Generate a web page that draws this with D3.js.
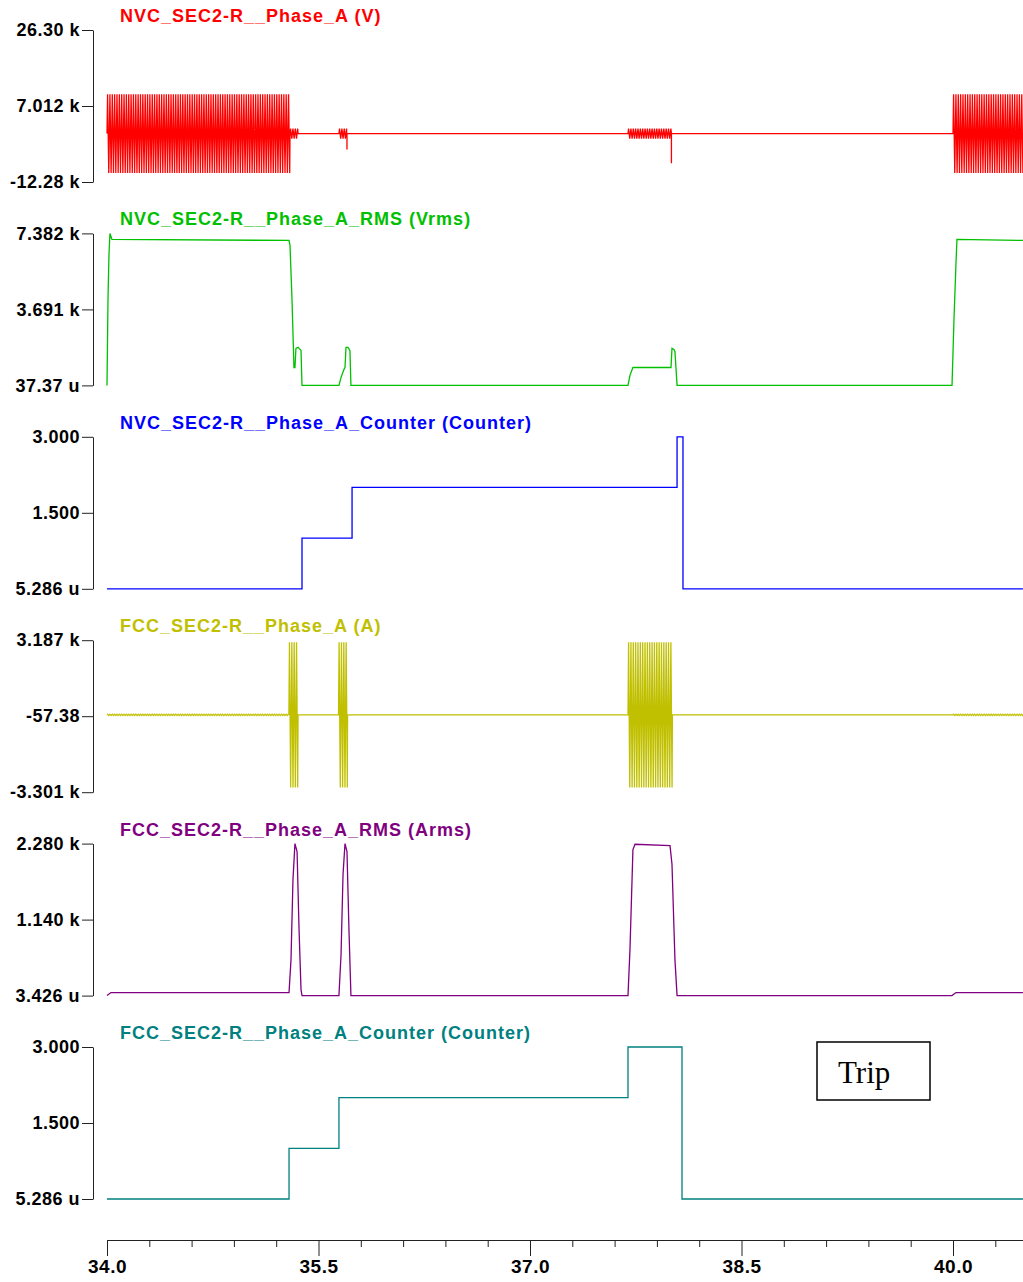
<!DOCTYPE html>
<html>
<head>
<meta charset="utf-8">
<style>
  body { margin: 0; background: #fff; }
  svg text { font-family: "Liberation Sans", Arial, sans-serif; }
  .tick text { font-weight: bold; font-size: 18px; fill: #000; letter-spacing: 0.5px; }
  .xaxis .tick text { font-size: 19px; }
  .title { font-weight: bold; font-size: 18px; letter-spacing: 1px; }
</style>
</head>
<body>
<svg id="chart" width="1023" height="1282"></svg>
<script src="https://d3js.org/d3.v7.min.js"></script>
<script>
  // time axis (s)
  var xTicks = [34.0, 35.5, 37.0, 38.5, 40.0]
  var xMinor = [34.3, 34.6, 34.9, 35.2, 35.8, 36.1, 36.4, 36.7, 37.3, 37.6, 37.9, 38.2, 38.8, 39.1, 39.4, 39.7, 40.3]
  var tStart = 34.0, tEnd = 40.5
  var halfStep = 1 / 120 // spacing of the drawn waveform strokes

  // panel titles / colours / y ranges / tick labels
  var titles = ["NVC_SEC2-R__Phase_A (V)", "NVC_SEC2-R__Phase_A_RMS (Vrms)", "NVC_SEC2-R__Phase_A_Counter (Counter)",
                "FCC_SEC2-R__Phase_A (A)", "FCC_SEC2-R__Phase_A_RMS (Arms)", "FCC_SEC2-R__Phase_A_Counter (Counter)"]
  var colors = ["#ff0000", "#00c000", "#0000ff", "#c0c000", "#800080", "#008080"]
  var yRanges = [[-12.28, 26.30], [0, 7.382], [0, 3.0], [-3.301, 3.187], [0, 2.280], [0, 3.0]]
  var yLabels = [["-12.28 k", "7.012 k", "26.30 k"], ["37.37 u", "3.691 k", "7.382 k"], ["5.286 u", "1.500", "3.000"],
                 ["-3.301 k", "-57.38", "3.187 k"], ["3.426 u", "1.140 k", "2.280 k"], ["5.286 u", "1.500", "3.000"]]

  // NVC voltage (kV): bursts [start, end, peak] and spikes [t, value]
  var vBursts = [[34.000, 35.298, 10.0], [35.298, 35.355, 1.3], [35.645, 35.700, 1.3], [37.695, 38.003, 1.3], [40.000, 40.496, 10.0]]
  var vSpikes = [[35.702, -4.0], [38.003, -7.5]]

  // NVC RMS (kVrms)
  var vRms = [[34.000, 0], [34.007, 4.18], [34.014, 6.36], [34.021, 7.38], [34.035, 7.09], [35.291, 7.04],
              [35.298, 6.80], [35.312, 4.18], [35.326, 0.87], [35.333, 0.87], [35.340, 1.80], [35.355, 1.85],
              [35.376, 1.70], [35.383, 0], [35.645, 0], [35.660, 0.39], [35.681, 0.78], [35.688, 0.87],
              [35.695, 1.85], [35.709, 1.85], [35.723, 1.70], [35.730, 0], [37.695, 0], [37.709, 0.49],
              [37.730, 0.87], [38.000, 0.87], [38.007, 1.80], [38.021, 1.75], [38.028, 1.65], [38.043, 0],
              [39.993, 0], [40.007, 3.21], [40.021, 5.88], [40.028, 7.09], [40.496, 7.04]]

  // NVC counter
  var vCount = [[34.000, 0], [35.383, 1], [35.738, 2], [38.043, 3], [38.085, 0], [40.496, 0]]

  // FCC current (kA): bursts [start, end, peak]
  var iBursts = [[34.000, 35.290, 0.03], [35.290, 35.355, 3.1], [35.642, 35.706, 3.1], [37.695, 38.010, 3.1], [40.000, 40.496, 0.03]]

  // FCC RMS (kArms)
  var iRms = [[34.000, 0], [34.028, 0.045], [35.291, 0.045], [35.305, 0.54], [35.319, 1.74], [35.333, 2.28],
              [35.348, 2.16], [35.362, 0.99], [35.376, 0.09], [35.383, 0], [35.645, 0], [35.660, 0.62],
              [35.674, 1.82], [35.688, 2.28], [35.702, 2.16], [35.716, 0.99], [35.730, 0], [37.695, 0],
              [37.709, 0.69], [37.730, 2.19], [37.745, 2.27], [37.993, 2.25], [38.007, 1.97], [38.028, 0.54],
              [38.043, 0], [39.993, 0], [40.021, 0.045], [40.496, 0.045]]

  // FCC counter
  var iCount = [[34.000, 0], [35.291, 1], [35.645, 2], [37.695, 3], [38.078, 0], [40.496, 0]]

  // expand burst envelopes into an alternating waveform trace
  function waveform(bursts, spikes) {
    var pts = []
    bursts.forEach(function (b) {
      pts.push([b[0], 0])
      var k = 0
      for (var t = b[0] + halfStep / 2; t < b[1]; t += halfStep) {
        pts.push([t, k % 2 === 0 ? b[2] : -b[2]])
        k++
      }
      pts.push([b[1], 0])
    })
    ;(spikes || []).forEach(function (s) {
      pts.push([s[0] - 0.0001, 0], [s[0], s[1]], [s[0] + 0.0001, 0])
    })
    pts.sort(function (a, b) { return a[0] - b[0] })
    pts.unshift([tStart, 0])
    pts.push([tEnd - 0.004, 0])
    return pts
  }

  var series = [
    { pts: waveform(vBursts, vSpikes), step: false },
    { pts: vRms, step: false },
    { pts: vCount, step: true },
    { pts: waveform(iBursts), step: false },
    { pts: iRms, step: false },
    { pts: iCount, step: true }
  ]

  var svg = d3.select("#chart")
  var x = d3.scaleLinear().domain([tStart, tEnd]).range([107, 1023.5])
  var axisX = 93
  var panelTop = 30, panelH = 152, panelGap = 203.4

  series.forEach(function (s, i) {
    var top = panelTop + i * panelGap
    var y = d3.scaleLinear().domain(yRanges[i]).range([top + panelH, top])
    var r = yRanges[i]
    var tv = [r[0], (r[0] + r[1]) / 2, r[1]]
    svg.append("g")
      .attr("transform", "translate(" + axisX + ",0)")
      .call(d3.axisLeft(y).tickValues(tv).tickSize(11).tickSizeOuter(0).tickPadding(2)
        .tickFormat(function (d, j) { return yLabels[i][j] }))
      .call(function (g) { g.selectAll("path, line").attr("stroke", "#222") })

    svg.append("text").attr("class", "title")
      .attr("x", 120).attr("y", top - 8)
      .attr("fill", colors[i])
      .text(titles[i])

    var line = d3.line().x(function (d) { return x(d[0]) }).y(function (d) { return y(d[1]) })
    if (s.step) line.curve(d3.curveStepAfter)
    svg.append("path")
      .datum(s.pts)
      .attr("fill", "none")
      .attr("stroke", colors[i])
      .attr("stroke-width", 1.3)
      .attr("d", line)
  })

  // time axis
  var axisY = 1240
  svg.append("g")
    .attr("transform", "translate(0," + axisY + ")")
    .call(d3.axisBottom(x).tickValues(xMinor).tickSize(7).tickSizeOuter(0).tickFormat(""))
    .call(function (g) { g.selectAll("path, line").attr("stroke", "#222") })
  svg.append("g").attr("class", "xaxis")
    .attr("transform", "translate(0," + axisY + ")")
    .call(d3.axisBottom(x).tickValues(xTicks).tickSize(16).tickSizeOuter(0).tickPadding(4).tickFormat(d3.format(".1f")))
    .call(function (g) { g.selectAll("path, line").attr("stroke", "#222") })

  // trip annotation
  svg.append("rect")
    .attr("x", 817).attr("y", 1042).attr("width", 113).attr("height", 58)
    .attr("fill", "none").attr("stroke", "#000").attr("stroke-width", 1.5)
  svg.append("text")
    .attr("x", 838).attr("y", 1083)
    .style("font-family", "'Liberation Serif', 'Times New Roman', serif")
    .style("font-size", "31px")
    .text("Trip")
</script>
</body>
</html>
